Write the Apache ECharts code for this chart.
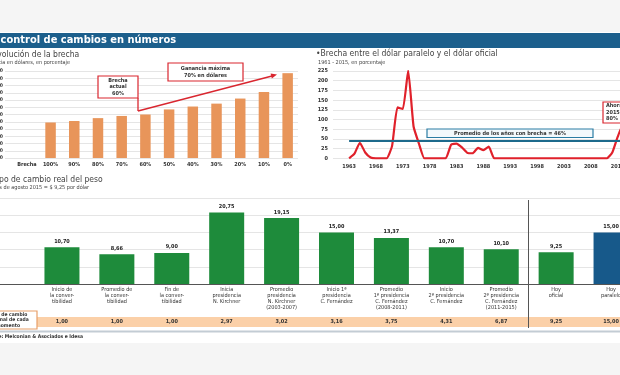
<!DOCTYPE html>
<html>
<head>
<meta charset="utf-8">
<script src="https://cdn.jsdelivr.net/npm/echarts/dist/echarts.min.js"></script>
<style>
  html, body { margin: 0; padding: 0; background: #f5f5f5; }
  #chart { width: 620px; height: 375px; }
</style>
</head>
<body>
<div id="chart"></div>
<script>
var FONT = "'Liberation Sans Narrow', 'DejaVu Sans Condensed', sans-serif";

// evolucion de la brecha (dolares, en porcentaje)
var brechaCats = ['Brecha', '100%', '90%', '80%', '70%', '60%', '50%', '40%', '30%', '20%', '10%', '0%'];
var gananciaDolares = [null, 49, 51, 55, 58, 60, 67, 71, 75, 82, 91, 117];

// brecha paralelo / oficial, 1961 - 2015
var years = [1960, 1961, 1962, 1963, 1964, 1965, 1966, 1967, 1968, 1969,
  1970, 1971, 1972, 1973, 1974, 1975, 1976, 1977, 1978, 1979,
  1980, 1981, 1982, 1983, 1984, 1985, 1986, 1987, 1988, 1989,
  1990, 1991, 1992, 1993, 1994, 1995, 1996, 1997, 1998, 1999,
  2000, 2001, 2002, 2003, 2004, 2005, 2006, 2007, 2008, 2009,
  2010, 2011, 2012, 2013, 2014, 2015, 2016, 2017, 2018];
var brechaAnual = [null, null, null, 0, 12, 40, 15, 2, 0, 0,
  0, 32, 131, 127, 226, 82, 38, 0, 0, 0,
  0, 0, 35, 38, 28, 14, 13, 27, 21, 30,
  0, 0, 0, 0, 0, 0, 0, 0, 0, 0,
  0, 0, 0, 0, 0, 0, 0, 0, 0, 0,
  0, 0, 15, 55, 85, 80, null, null, null];
var promedioBrecha = 46;

// tipo de cambio real del peso
var momentos = [
  'Inicio de\nla conver-\ntibilidad',
  'Promedio de\nla conver-\ntibilidad',
  'Fin de\nla conver-\ntibilidad',
  'Inicia\npresidencia\nN. Kirchner',
  'Promedio\npresidencia\nN. Kirchner\n(2003-2007)',
  'Inicio 1ª\npresidencia\nC. Fernández',
  'Promedio\n1ª presidencia\nC. Fernández\n(2008-2011)',
  'Inicio\n2ª presidencia\nC. Fernández',
  'Promedio\n2ª presidencia\nC. Fernández\n(2011-2015)',
  'Hoy\noficial',
  'Hoy\nparalelo'
];
var tcReal = [10.70, 8.66, 9.00, 20.75, 19.15, 15.00, 13.37, 10.70, 10.10, 9.25, 15.00];
var tcNominal = ['1,00', '1,00', '1,00', '2,97', '3,02', '3,16', '3,75', '4,31', '6,87', '9,25', '15,00'];

function txt(text, x, y, size, opts) {
  opts = opts || {};
  return {
    type: 'text', z: 20,
    style: {
      text: text, x: x, y: y,
      fontSize: size, fontFamily: FONT,
      fontWeight: opts.bold ? 'bold' : 'normal',
      fill: opts.color || '#333',
      align: opts.align || 'left',
      verticalAlign: 'middle',
      lineHeight: opts.lh || size + 1
    }
  };
}
function box(x, y, w, h, stroke, fill) {
  return { type: 'rect', z: 15, shape: { x: x, y: y, width: w, height: h },
    style: { fill: fill || '#fff', stroke: stroke, lineWidth: 1.2 } };
}
function seg(x1, y1, x2, y2, color, w) {
  return { type: 'line', z: 15, shape: { x1: x1, y1: y1, x2: x2, y2: y2 },
    style: { stroke: color, lineWidth: w } };
}
function grid(left, right, top, bottom) {
  return { left: left, right: right, top: top, bottom: bottom, containLabel: false, outerBoundsMode: 'none' };
}

var red = '#d9262f';
var gridLine = { lineStyle: { color: '#dedede', width: 0.8 } };
var noLine = { show: false };

var option = {
  backgroundColor: '#f5f5f5',
  animation: false,
  textStyle: { fontFamily: FONT },
  grid: [
    grid(5, 322, 71, 217),
    grid(15, 320.5, 71, 217),
    grid(333, -24.5, 71, 216.7),
    grid(0, 0, 198, 91),
    grid(34.5, -18.5, 198, 91),
    grid(34.5, -18.5, 198, 91)
  ],
  xAxis: [
    { gridIndex: 0, type: 'value', min: 0, max: 1, show: false },
    { gridIndex: 1, type: 'category', data: brechaCats, axisLine: noLine, axisTick: noLine,
      axisLabel: { interval: 0, fontSize: 5.5, fontWeight: 'bold', color: '#333', margin: 4 } },
    { gridIndex: 2, type: 'category', data: years.map(String), boundaryGap: false,
      axisLine: noLine, axisTick: noLine,
      axisLabel: { interval: function (i, v) { return (+v - 1963) % 5 === 0; },
        fontSize: 5.5, fontWeight: 'bold', color: '#333', margin: 5 } },
    { gridIndex: 3, type: 'value', min: 0, max: 1, axisLine: { show: true, lineStyle: { color: '#555', width: 1 } },
      axisTick: noLine, axisLabel: noLine, splitLine: noLine },
    { gridIndex: 4, type: 'category', data: momentos, axisLine: noLine, axisTick: noLine,
      axisLabel: { interval: 0, fontSize: 5.5, lineHeight: 6, color: '#333', margin: 3 } },
    { gridIndex: 5, type: 'category', data: momentos, position: 'bottom', offset: 33,
      axisLine: noLine, axisTick: noLine,
      axisLabel: { show: true, interval: 0, fontSize: 5.5, fontWeight: 'bold', color: '#333', margin: 2,
        formatter: function (v, i) { return tcNominal[i]; } } }
  ],
  yAxis: [
    { gridIndex: 0, type: 'value', min: 0, max: 120, interval: 10, axisLine: noLine, axisTick: noLine,
      axisLabel: { fontSize: 5, fontWeight: 'bold', color: '#333', margin: 2 }, splitLine: gridLine },
    { gridIndex: 1, type: 'value', min: 0, max: 120, interval: 10, show: false },
    { gridIndex: 2, type: 'value', min: 0, max: 225, interval: 25, axisLine: noLine, axisTick: noLine,
      axisLabel: { fontSize: 5.5, fontWeight: 'bold', color: '#333', margin: 5 }, splitLine: gridLine },
    { gridIndex: 3, type: 'value', min: 0, max: 25, interval: 5, axisLine: noLine, axisTick: noLine,
      axisLabel: noLine, splitLine: gridLine },
    { gridIndex: 4, type: 'value', min: 0, max: 25, interval: 5, show: false },
    { gridIndex: 5, type: 'value', min: 0, max: 25, interval: 5, axisLine: noLine, axisTick: noLine,
      axisLabel: noLine, splitLine: noLine }
  ],
  series: [
    {
      type: 'bar', xAxisIndex: 1, yAxisIndex: 1,
      data: gananciaDolares, barWidth: 10.5,
      itemStyle: { color: '#e8955a' }
    },
    {
      type: 'line', xAxisIndex: 2, yAxisIndex: 2,
      data: brechaAnual, showSymbol: false, smooth: 0.15,
      lineStyle: { color: '#e0212b', width: 2.2 },
      markLine: {
        silent: true, symbol: 'none', label: { show: false },
        lineStyle: { color: '#1d6a8c', width: 2, type: 'solid' },
        data: [[{ coord: ['1963', promedioBrecha] }, { coord: ['2018', promedioBrecha] }]]
      }
    },
    {
      type: 'bar', xAxisIndex: 4, yAxisIndex: 4, barWidth: 35,
      data: tcReal.map(function (v, i) {
        return { value: v, itemStyle: { color: i === tcReal.length - 1 ? '#17598a' : '#1e8b3b' } };
      }),
      label: {
        show: true, position: 'top', distance: 3,
        fontSize: 5.5, fontWeight: 'bold', color: '#222',
        formatter: function (p) { return p.value.toFixed(2).replace('.', ','); }
      }
    }
  ],
  graphic: [
    { type: 'rect', z: -10, shape: { x: 0, y: 32, width: 620, height: 311 }, style: { fill: '#ffffff' } },
    { type: 'rect', z: 10, shape: { x: 0, y: 33, width: 620, height: 15 }, style: { fill: '#1c5f8c' } },
    txt('El control de cambios en números', -13, 40.5, 11, { bold: true, color: '#ffffff' }),

    txt('•Evolución de la brecha', -12, 55, 8.5, { color: '#444' }),
    txt('Ganancia en dólares, en porcentaje', -18, 63, 5.5, { color: '#444' }),
    txt('•Brecha entre el dólar paralelo y el dólar oficial', 316, 54, 8.5, { color: '#444' }),
    txt('1961 - 2015, en porcentaje', 318, 63, 5.5, { color: '#444' }),
    txt('•Tipo de cambio real del peso', -12, 180, 8.5, { color: '#444' }),
    txt('Valores de agosto 2015 = $ 9,25 por dólar', -16, 188, 5.5, { color: '#444' }),

    // anotaciones brecha
    box(98, 76, 40, 22, red),
    txt('Brecha\nactual\n60%', 118, 87, 5.5, { bold: true, align: 'center', lh: 6.5 }),
    box(168, 63, 75, 18, red),
    txt('Ganancia máxima\n70% en dólares', 205.5, 72, 5.5, { bold: true, align: 'center', lh: 6.5 }),
    seg(138, 98, 138, 111, red, 1.3),
    seg(138, 111, 272, 76, red, 1.3),
    { type: 'polygon', z: 15, shape: { points: [[277, 74.5], [271.8, 78.4], [270.6, 73.6]] }, style: { fill: red } },

    box(427, 129, 166, 8.5, '#2b7ca3', '#f3f9fc'),
    txt('Promedio de los años con brecha = 46%', 510, 133.3, 5.5, { bold: true, align: 'center' }),
    box(603, 102, 30, 21, red),
    txt('Ahora\n2015\n80%', 606, 112.5, 5.5, { bold: true, lh: 6.5 }),

    // fila tipo de cambio nominal
    { type: 'rect', z: -5, shape: { x: 37, y: 317, width: 583, height: 10 }, style: { fill: '#fbd0a8' } },
    box(-21, 311, 58, 18, '#e8a06a'),
    txt('Tipo de cambio\nnominal de cada\nmomento', 8, 320, 5, { bold: true, align: 'center', lh: 5.5 }),
    seg(528.5, 200, 528.5, 328, '#555', 1),

    seg(0, 331.5, 620, 331.5, '#c3ccd4', 2),
    txt('Fuente: Melconian & Asociados e Idesa', -16, 336.5, 5, { bold: true })
  ]
};

var chart = echarts.init(document.getElementById('chart'));
chart.setOption(option);
</script>
</body>
</html>
